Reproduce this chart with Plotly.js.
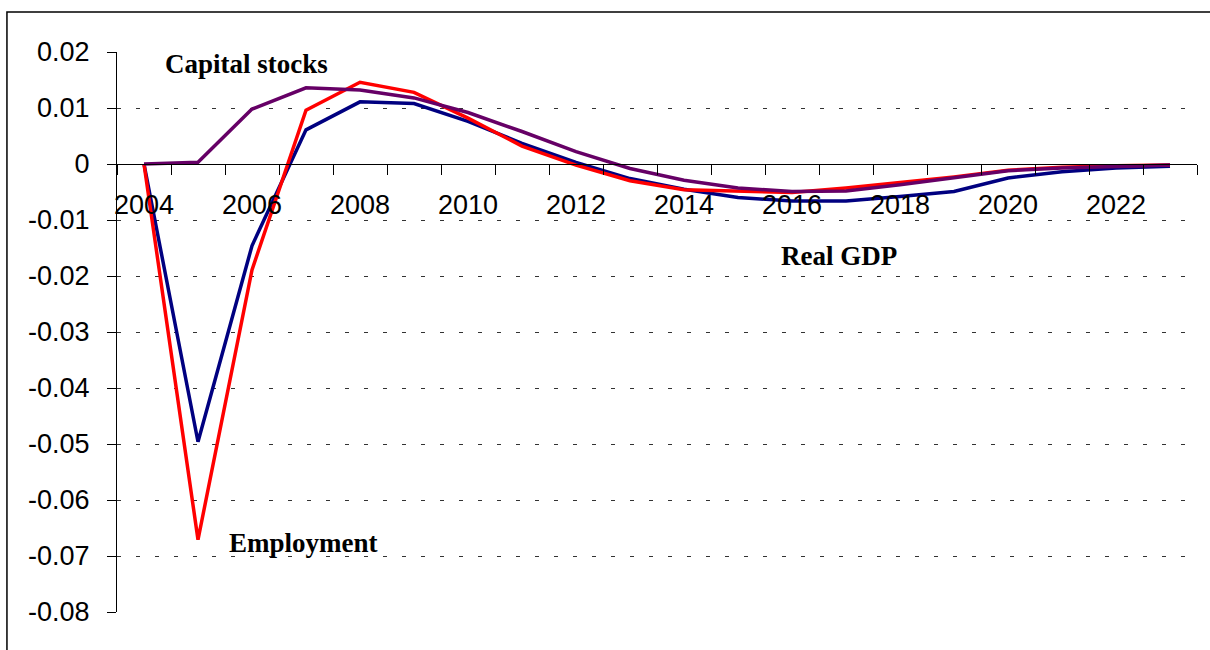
<!DOCTYPE html>
<html>
<head>
<meta charset="utf-8">
<script src="https://cdn.plot.ly/plotly-3.0.1.min.js"></script>
<style>
  html, body { margin: 0; padding: 0; background: #fff; }
  #chart { width: 1210px; height: 650px; }
</style>
</head>
<body>
<div id="chart"></div>
<script>
// ---- data ----
var years = [2004, 2005, 2006, 2007, 2008, 2009, 2010, 2011, 2012, 2013,
             2014, 2015, 2016, 2017, 2018, 2019, 2020, 2021, 2022, 2023];
var realGDP = [0, -0.0496, -0.0146, 0.0061, 0.0111, 0.0108, 0.0076, 0.0037, 0.0003, -0.0026,
               -0.0045, -0.0060, -0.0066, -0.0066, -0.0058, -0.0049, -0.0025, -0.0014, -0.0007, -0.0004];
var employment = [0, -0.0671, -0.0189, 0.0096, 0.0146, 0.0128, 0.0082, 0.0032, -0.0002, -0.0030,
                  -0.0046, -0.0049, -0.0051, -0.0043, -0.0033, -0.0023, -0.0011, -0.0006, -0.0003, -0.0002];
var capitalStocks = [0, 0.0003, 0.0098, 0.0136, 0.0132, 0.0118, 0.0092, 0.0058, 0.0022, -0.0008,
                     -0.0029, -0.0043, -0.0049, -0.0048, -0.0037, -0.0025, -0.0012, -0.0007, -0.0004, -0.0002];
var xTickYears = [2004, 2006, 2008, 2010, 2012, 2014, 2016, 2018, 2020, 2022];
var yTickVals = [0.02, 0.01, 0, -0.01, -0.02, -0.03, -0.04, -0.05, -0.06, -0.07, -0.08];
var yTickText = ['0.02', '0.01', '0', '-0.01', '-0.02', '-0.03', '-0.04', '-0.05', '-0.06', '-0.07', '-0.08'];
var seriesNames = ['Real GDP', 'Employment', 'Capital stocks'];

// category boundaries for tick marks (Excel-style "between" ticks)
var boundaries = years.map(function (y) { return y - 0.5; });
boundaries.push(years[years.length - 1] + 0.5);

var axisFont = { family: 'Liberation Sans, Arial, sans-serif', size: 27, color: '#000' };
var labelFont = { family: 'Liberation Serif, Times New Roman, serif', size: 27, color: '#000', weight: 'bold' };

var traces = [
  { x: years, y: realGDP, name: seriesNames[0], type: 'scatter', mode: 'lines',
    line: { color: '#000080', width: 3.5 }, hoverinfo: 'x+y+name' },
  { x: years, y: employment, name: seriesNames[1], type: 'scatter', mode: 'lines',
    line: { color: '#FF0000', width: 3.5 }, hoverinfo: 'x+y+name' },
  { x: years, y: capitalStocks, name: seriesNames[2], type: 'scatter', mode: 'lines',
    line: { color: '#660066', width: 3.5 }, hoverinfo: 'x+y+name' }
];

var layout = {
  width: 1210, height: 650,
  margin: { l: 117, r: 13, t: 52, b: 38, pad: 0 },
  paper_bgcolor: '#fff', plot_bgcolor: 'rgba(0,0,0,0)',
  showlegend: false,
  xaxis: {
    range: [boundaries[0], boundaries[boundaries.length - 1]],
    anchor: 'free', position: 0.8,
    showline: true, linecolor: '#000', linewidth: 1,
    showgrid: false, zeroline: false,
    tickmode: 'array', tickvals: xTickYears, ticktext: xTickYears.map(String),
    ticks: '', ticklabelstandoff: 17,
    tickfont: axisFont,
    minor: { tickmode: 'array', tickvals: boundaries, ticks: 'outside', ticklen: 10,
             tickwidth: 1, tickcolor: '#000', showgrid: false }
  },
  yaxis: {
    range: [-0.08, 0.02],
    showline: true, linecolor: '#000', linewidth: 1,
    ticks: 'outside', ticklen: 9, tickwidth: 1, tickcolor: '#000',
    tickmode: 'array', tickvals: yTickVals, ticktext: yTickText,
    tickfont: axisFont, ticklabelstandoff: 12,
    showgrid: true, gridcolor: '#333', gridwidth: 1, griddash: '4px,15px',
    zeroline: false
  },
  annotations: [
    { text: 'Capital stocks', xref: 'x', yref: 'y', x: 2004.35, y: 0.0178,
      xanchor: 'left', yanchor: 'middle', showarrow: false, font: labelFont },
    { text: 'Employment', xref: 'x', yref: 'y', x: 2005.54, y: -0.0677,
      xanchor: 'left', yanchor: 'middle', showarrow: false, font: labelFont },
    { text: 'Real GDP', xref: 'x', yref: 'y', x: 2015.76, y: -0.0165,
      xanchor: 'left', yanchor: 'middle', showarrow: false, font: labelFont }
  ],
  shapes: [
    { type: 'rect', xref: 'paper', yref: 'paper', x0: -0.1019, x1: 1.02, y0: -0.08, y1: 1.0716,
      line: { color: '#000', width: 1.5 }, fillcolor: 'rgba(0,0,0,0)', layer: 'below' }
  ]
};

Plotly.newPlot('chart', traces, layout, { displayModeBar: false, staticPlot: true });
</script>
</body>
</html>
